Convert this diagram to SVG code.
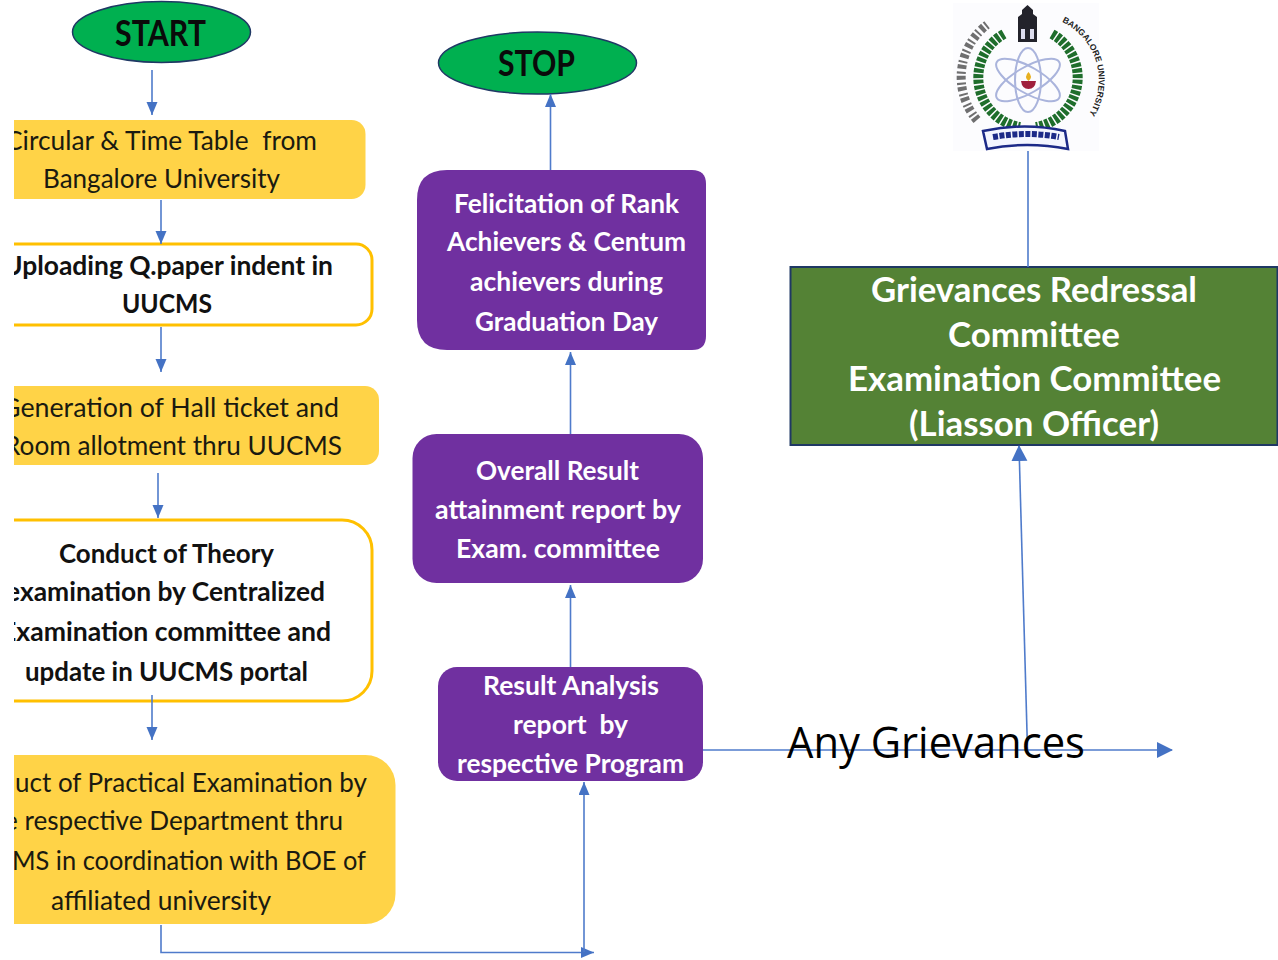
<svg xmlns="http://www.w3.org/2000/svg" xmlns:xlink="http://www.w3.org/1999/xlink" width="1278" height="960" viewBox="0 0 1278 960">
<style>
text{font-family:"Lato","Carlito","Liberation Sans",sans-serif}
.k{font-size:27.500px;fill:#1a1a10}
.b{font-size:27.500px;fill:#111;font-weight:700}
.w{font-size:27.500px;fill:#fff;font-weight:700}
.g{font-size:34px;fill:#fff;font-weight:700}
.t{font-size:37px;fill:#0a0a0a;font-weight:700}
.y{fill:#ffd347}
.o{fill:#fff;stroke:#ffc000;stroke-width:3}
.p{fill:#7030a0}
.e{fill:#00b050;stroke:#1f3864;stroke-width:1.5}
.c{fill:none;stroke:#4f7bcb;stroke-width:1.6}
.h{fill:#4472c4;stroke:none}
</style>
<defs>
<marker id="a" markerUnits="userSpaceOnUse" markerWidth="14" markerHeight="12" refX="13" refY="5.500" orient="auto"><path class="h" d="M0 0L13 5.500L0 11Z"/></marker>
<marker id="s" markerUnits="userSpaceOnUse" markerWidth="16" markerHeight="17" refX="15" refY="8" orient="auto"><path class="h" d="M0 0L16 8L0 16Z"/></marker>
</defs>
<rect width="1278" height="960" fill="#fff"/>
<g id="n-start"><ellipse class="e" cx="161.500" cy="32" rx="89" ry="30.500"/><text class="t" x="115" y="46" textLength="91" lengthAdjust="spacingAndGlyphs">START</text></g>
<g id="n-circular"><rect class="y" x="-20" y="120" width="385.500" height="79" rx="14"/>
<text class="k" x="5" y="150" textLength="312" lengthAdjust="spacingAndGlyphs" xml:space="preserve">Circular &amp; Time Table  from</text>
<text class="k" x="43" y="188" textLength="237" lengthAdjust="spacingAndGlyphs">Bangalore University</text></g>
<g id="n-upload"><rect class="o" x="-20" y="244" width="392" height="81" rx="16"/>
<text class="b" x="3" y="275" textLength="330" lengthAdjust="spacingAndGlyphs">Uploading Q.paper indent in</text>
<text class="b" x="122" y="313" textLength="90" lengthAdjust="spacingAndGlyphs">UUCMS</text></g>
<g id="n-hall"><rect class="y" x="-20" y="386" width="399" height="79" rx="14"/>
<text class="k" x="1" y="417" textLength="338" lengthAdjust="spacingAndGlyphs">Generation of Hall ticket and</text>
<text class="k" x="4" y="455" textLength="338" lengthAdjust="spacingAndGlyphs">Room allotment thru UUCMS</text></g>
<g id="n-theory"><rect class="o" x="-20" y="520" width="392" height="181" rx="30"/>
<text class="b" x="59" y="563" textLength="215" lengthAdjust="spacingAndGlyphs">Conduct of Theory</text>
<text class="b" x="6" y="601" textLength="319" lengthAdjust="spacingAndGlyphs">examination by Centralized</text>
<text class="b" x="1" y="641" textLength="330" lengthAdjust="spacingAndGlyphs">Examination committee and</text>
<text class="b" x="25" y="681" textLength="283" lengthAdjust="spacingAndGlyphs">update in UUCMS portal</text></g>
<g id="n-practical"><rect class="y" x="-40" y="755" width="435.500" height="169" rx="30"/>
<text class="k" x="15" y="792" textLength="352" lengthAdjust="spacingAndGlyphs">uct of Practical Examination by</text>
<text class="k" x="4" y="830" textLength="339" lengthAdjust="spacingAndGlyphs">e respective Department thru</text>
<text class="k" x="12" y="870" textLength="354" lengthAdjust="spacingAndGlyphs">MS in coordination with BOE of</text>
<text class="k" x="51" y="910" textLength="220" lengthAdjust="spacingAndGlyphs">affiliated university</text></g>
<rect id="left-crop" x="0" y="100" width="14" height="860" fill="#fff"/>
<g id="n-stop"><ellipse class="e" cx="537.500" cy="63" rx="99" ry="31"/><text class="t" x="498" y="76" textLength="77" lengthAdjust="spacingAndGlyphs">STOP</text></g>
<g id="n-felicitation"><path class="p" d="M447 170H692Q706 170 706 184V336Q706 350 692 350H447Q417 350 417 320V200Q417 170 447 170Z"/>
<text class="w" x="454" y="213" textLength="225" lengthAdjust="spacingAndGlyphs">Felicitation of Rank</text>
<text class="w" x="447" y="251" textLength="239" lengthAdjust="spacingAndGlyphs">Achievers &amp; Centum</text>
<text class="w" x="470" y="291" textLength="193" lengthAdjust="spacingAndGlyphs">achievers during</text>
<text class="w" x="475" y="331" textLength="183" lengthAdjust="spacingAndGlyphs">Graduation Day</text></g>
<g id="n-overall"><rect class="p" x="412.500" y="434" width="290.500" height="149" rx="24"/>
<text class="w" x="476" y="480" textLength="163" lengthAdjust="spacingAndGlyphs">Overall Result</text>
<text class="w" x="435" y="519" textLength="246" lengthAdjust="spacingAndGlyphs">attainment report by</text>
<text class="w" x="456" y="558" textLength="204" lengthAdjust="spacingAndGlyphs">Exam. committee</text></g>
<g id="n-analysis"><rect class="p" x="438" y="667" width="265" height="114" rx="19"/>
<text class="w" x="483" y="695" textLength="176" lengthAdjust="spacingAndGlyphs">Result Analysis</text>
<text class="w" x="513" y="734" textLength="115" lengthAdjust="spacingAndGlyphs" xml:space="preserve">report  by</text>
<text class="w" x="457" y="773" textLength="227" lengthAdjust="spacingAndGlyphs">respective Program</text></g>
<g id="n-grievance"><rect x="790.500" y="267" width="487" height="178" fill="#548235" stroke="#1f3864" stroke-width="2"/>
<text class="g" x="871" y="302" textLength="326" lengthAdjust="spacingAndGlyphs">Grievances Redressal</text>
<text class="g" x="948" y="347" textLength="172" lengthAdjust="spacingAndGlyphs">Committee</text>
<text class="g" x="848" y="391" textLength="373" lengthAdjust="spacingAndGlyphs">Examination Committee</text>
<text class="g" x="909" y="436" textLength="250" lengthAdjust="spacingAndGlyphs">(Liasson Officer)</text></g>
<g id="connectors">
<path class="c" marker-end="url(#a)" d="M152 70V115"/>
<path class="c" marker-end="url(#a)" d="M161 200V244"/>
<path class="c" marker-end="url(#a)" d="M161 327V372"/>
<path class="c" marker-end="url(#a)" d="M158 473V518"/>
<path class="c" marker-end="url(#a)" d="M152 695V740"/>
<path class="c" marker-end="url(#a)" d="M161 925V952.500H594"/>
<path class="c" marker-end="url(#a)" d="M584 952V782"/>
<path class="c" marker-end="url(#a)" d="M570.500 667V585"/>
<path class="c" marker-end="url(#a)" d="M570.500 434V352"/>
<path class="c" marker-end="url(#a)" d="M550.500 170V94"/>
<path class="c" marker-end="url(#s)" d="M703 750H1172"/>
<path class="c" marker-end="url(#s)" d="M1027.500 750L1019 446"/>
<path class="c" d="M1028 150V267"/>
</g>
<g id="logo">
<rect x="953" y="3" width="146" height="148" fill="#fcfcfe"/>
<g fill="none" stroke="#aab4dc" stroke-width="2"><ellipse cx="1028" cy="80" rx="36" ry="13" transform="rotate(30 1028 80)"/><ellipse cx="1028" cy="80" rx="36" ry="13" transform="rotate(-30 1028 80)"/><ellipse cx="1028" cy="80" rx="13" ry="32"/></g>
<path d="M1021 81h15q-1 8-7.500 8t-7.500-8z" fill="#a0203c"/><path d="M1028.500 72q5 5 0 9q-5-4 0-9z" fill="#e8b020"/>
<g fill="none" stroke="#1f6e2c"><path stroke-width="10" stroke-dasharray="4 1.500" d="M1004 34A50 50 0 0 0 1020 127"/><path stroke-width="10" stroke-dasharray="4 1.500" d="M1052 34A50 50 0 0 1 1036 127"/></g>
<path d="M1018 42h19V17l-4-3v-4l-5.500-5l-5.500 5v4l-4 3z" fill="#23232b"/><path d="M1021 29h4v10h-4zM1030 29h4v10h-4z" fill="#dde"/>
<path d="M983 131l4 18q40-8 81 0l-3-18q-40-9-82 0z" fill="#f4f6ff" stroke="#1c2a88" stroke-width="2.500"/>
<path d="M993 137q34-6 66 0" fill="none" stroke="#1c2a88" stroke-width="6" stroke-dasharray="5 1.500"/>
<path id="arcR" d="M1062 22A64 64 0 0 1 1083 122" fill="none"/>
<text font-size="8.500" fill="#222" font-weight="700" style="font-family:'Liberation Sans',sans-serif"><textPath xlink:href="#arcR">BANGALORE UNIVERSITY</textPath></text>
<path d="M977 120A66 66 0 0 1 988 24" fill="none" stroke="#333" stroke-width="9" stroke-dasharray="4 2 2 3" opacity=".7"/>
</g>
<text id="any" x="787" y="758" font-size="44" fill="#000" textLength="298" lengthAdjust="spacingAndGlyphs" style="font-family:'Open Sans',sans-serif">Any Grievances</text>
</svg>
